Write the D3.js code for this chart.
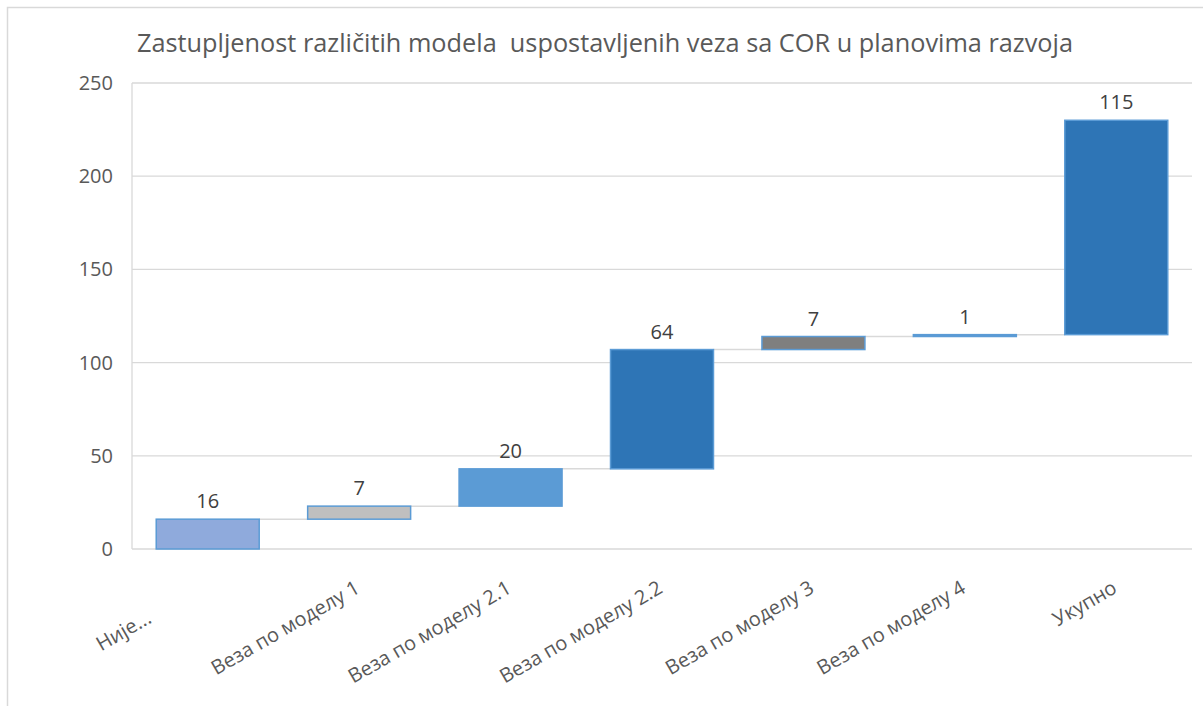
<!DOCTYPE html>
<html>
<head>
<meta charset="utf-8">
<script src="https://cdn.jsdelivr.net/npm/d3@7"></script>
<style>
  body { margin: 0; background: #fff; }
  text { font-family: "Open Sans", sans-serif; }
</style>
</head>
<body>
<div id="chart"></div>
<script>
const title = 'Zastupljenost različitih modela  uspostavljenih veza sa COR u planovima razvoja'
const categories = ['Није...', 'Веза по моделу 1', 'Веза по моделу 2.1', 'Веза по моделу 2.2', 'Веза по моделу 3', 'Веза по моделу 4', 'Укупно']
const values = [16, 7, 20, 64, 7, 1, 115]
const colors = ['#8FAADC', '#BFBFBF', '#5B9BD5', '#2E75B6', '#7F7F7F', '#5B9BD5', '#2E75B6']
const yTicks = [0, 50, 100, 150, 200, 250]

const W = 1203, H = 706
const m = {left: 132, right: 11, top: 83, bottom: 157}

const svg = d3.select('#chart')
              .append('svg')
              .attr('width', W)
              .attr('height', H)

// outer frame of the chart area
svg.append('rect')
    .attr('x', 7.5).attr('y', 7.5)
    .attr('width', 1400).attr('height', 900)
    .attr('fill', 'none')
    .attr('stroke', '#D9D9D9')
    .attr('stroke-width', 1.5)

svg.append('text')
    .attr('x', 605).attr('y', 52)
    .attr('text-anchor', 'middle')
    .style('white-space', 'pre')
    .attr('font-size', 25.3)
    .attr('fill', '#595959')
    .text(title)

// running totals: each bar starts where the previous one ended
let run = 0
const data = categories.map((c, i) => {
    const d = {key: c, value: values[i], start: run, end: run + values[i], color: colors[i]}
    run = d.end
    return d
})

const xScale = d3.scaleBand()
                 .domain(categories)
                 .range([m.left, W - m.right])
                 .paddingInner(0.32)
                 .paddingOuter(0.16)

const yScale = d3.scaleLinear()
                 .domain([0, 250])
                 .range([H - m.bottom, m.top])

// gridlines
svg.append('g')
    .selectAll('line')
    .data(yTicks).enter()
    .append('line')
        .attr('x1', m.left).attr('x2', W - m.right)
        .attr('y1', d => yScale(d)).attr('y2', d => yScale(d))
        .attr('stroke', '#D9D9D9')
        .attr('stroke-width', 1.3)

svg.append('line')
    .attr('x1', m.left).attr('x2', m.left)
    .attr('y1', yScale(250)).attr('y2', yScale(0))
    .attr('stroke', '#D9D9D9')
    .attr('stroke-width', 1.3)

// y labels
const yAxis = d3.axisLeft(yScale).tickValues(yTicks).tickSize(0).tickPadding(19)
const ya = svg.append('g')
    .attr('transform', `translate(${m.left}, 0)`)
    .call(yAxis)
ya.select('.domain').remove()
ya.selectAll('text')
    .attr('font-family', '"Open Sans", sans-serif')
    .attr('font-size', 20)
    .attr('fill', '#595959')

// connectors
svg.append('g')
    .selectAll('line')
    .data(data.slice(0, -1)).enter()
    .append('line')
        .attr('x1', d => xScale(d.key) + xScale.bandwidth())
        .attr('x2', (d, i) => xScale(categories[i + 1]))
        .attr('y1', d => yScale(d.end)).attr('y2', d => yScale(d.end))
        .attr('stroke', '#D9D9D9')
        .attr('stroke-width', 1.5)

// bars
svg.append('g')
    .selectAll('rect')
    .data(data).enter()
    .append('rect')
        .attr('x', d => xScale(d.key))
        .attr('y', d => yScale(d.end))
        .attr('width', xScale.bandwidth())
        .attr('height', d => yScale(d.start) - yScale(d.end))
        .attr('fill', d => d.color)
        .attr('stroke', '#5B9BD5')
        .attr('stroke-width', 1.5)

// value labels
svg.append('g')
    .selectAll('text')
    .data(data).enter()
    .append('text')
        .attr('x', d => xScale(d.key) + xScale.bandwidth() / 2)
        .attr('y', d => yScale(d.end) - 11)
        .attr('text-anchor', 'middle')
        .attr('font-size', 20)
        .attr('fill', '#404040')
        .text(d => d.value)

// rotated category labels
svg.append('g')
    .selectAll('text')
    .data(categories).enter()
    .append('text')
        .attr('transform', (d, i) => {
            let x = xScale(d) + xScale.bandwidth() / 2 - 6
            let y = yScale(0) + 29
            if (i === 0) { x -= 57; y += 30 }  // truncated label sits lower-left
            return `translate(${x}, ${y}) rotate(-30)`
        })
        .attr('text-anchor', 'end')
        .attr('dy', '0.8em')
        .attr('font-size', 20)
        .attr('fill', '#595959')
        .text(d => d)
</script>
</body>
</html>
